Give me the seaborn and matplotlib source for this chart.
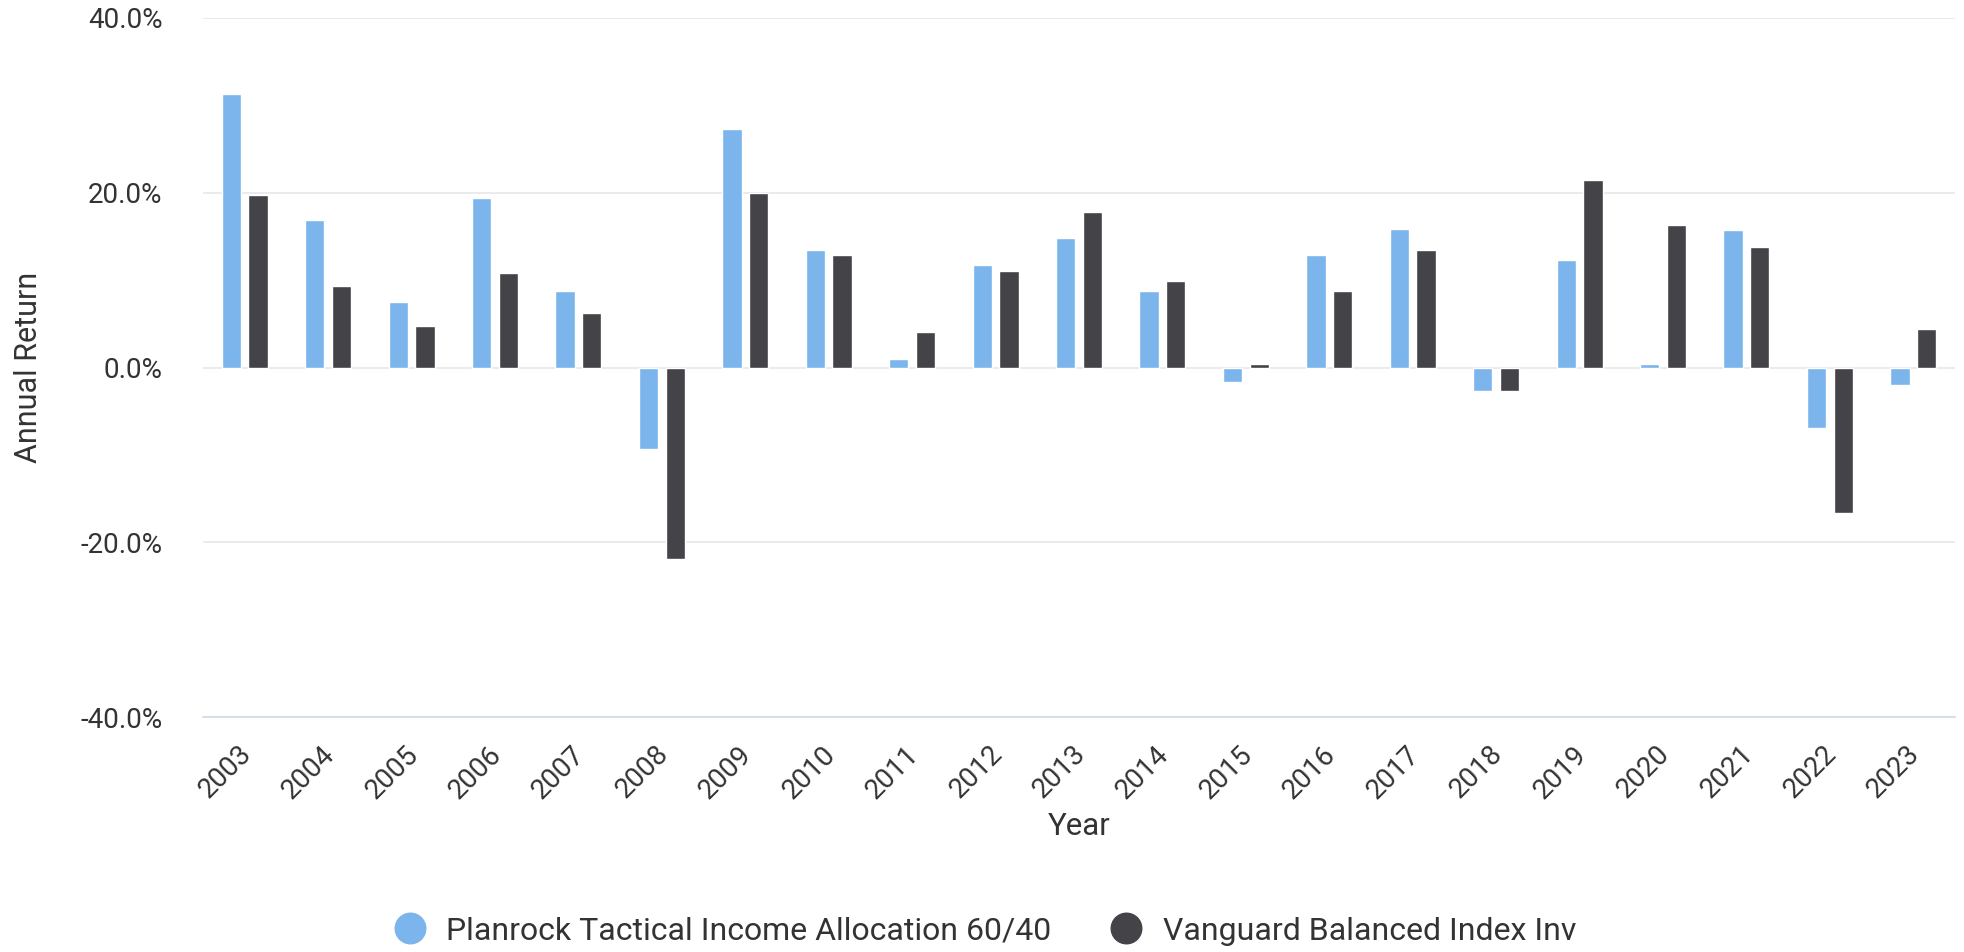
import numpy as np
import pandas as pd
import matplotlib
matplotlib.use('Agg')
import matplotlib.pyplot as plt
from matplotlib.lines import Line2D
from matplotlib.ticker import FuncFormatter
from matplotlib.transforms import ScaledTranslation
import seaborn as sns

years = [str(y) for y in range(2003, 2024)]
planrock = [31.3, 16.9, 7.5, 19.4, 8.7, -9.3, 27.3, 13.5, 1.0, 11.7, 14.8,
            8.7, -1.7, 12.9, 15.9, -2.7, 12.3, 0.4, 15.7, -6.9, -2.0]
vanguard = [19.7, 9.3, 4.7, 10.8, 6.2, -21.9, 20.0, 12.9, 4.1, 11.1, 17.8,
            9.9, 0.4, 8.7, 13.5, -2.7, 21.5, 16.3, 13.8, -16.7, 4.4]
series_names = ["Planrock Tactical Income Allocation 60/40",
                "Vanguard Balanced Index Inv"]
colors = ["#7cb5ec", "#434348"]

df = pd.DataFrame({
    "Year": years * 2,
    "Return": planrock + vanguard,
    "Series": [series_names[0]] * len(years) + [series_names[1]] * len(years),
})

sns.set_style("white")
plt.rcParams["font.family"] = ["Roboto", "DejaVu Sans"]

fig = plt.figure(figsize=(19.65, 9.52), dpi=100)
ax = fig.add_axes([203 / 1965, 1 - 717 / 952, (1955 - 203) / 1965, (717 - 18) / 952])

sns.barplot(data=df, x="Year", y="Return", hue="Series", palette=colors,
            saturation=1, width=0.64, gap=0.28, edgecolor="white", linewidth=1,
            ax=ax, legend=False, zorder=3)

ax.set_ylim(-40, 40)
ax.set_xlim(-0.5, len(years) - 0.5)
ax.set_yticks([-40, -20, 0, 20, 40])
ax.yaxis.set_major_formatter(FuncFormatter(lambda v, p: f"{v:.1f}%"))
ax.grid(axis="y", color="#e6e6e6", linewidth=1.1, zorder=0)
ax.grid(axis="x", visible=False)
for s in ["top", "right", "left"]:
    ax.spines[s].set_visible(False)
ax.spines["bottom"].set_color("#ccd6eb")
ax.spines["bottom"].set_linewidth(1.1)
ax.spines["bottom"].set_zorder(4)

ax.tick_params(axis="y", length=0, pad=29, labelsize=20, labelcolor="#333333")
ax.tick_params(axis="x", length=0, pad=17, labelsize=20, labelcolor="#333333")
shift = ScaledTranslation(-7 / 100, 0, fig.dpi_scale_trans)
for lbl in ax.get_xticklabels():
    lbl.set_rotation(45)
    lbl.set_ha("right")
    lbl.set_rotation_mode("anchor")
    lbl.set_transform(lbl.get_transform() + shift)

ax.set_ylabel("Annual Return", fontsize=22, color="#333333", labelpad=27)
ax.set_xlabel("Year", fontsize=22.5, color="#333333", labelpad=6)

handles = [Line2D([0], [0], marker="o", linestyle="none", markersize=22,
                  markerfacecolor=c, markeredgecolor=c) for c in colors]
fig.legend(handles, series_names, loc="center", bbox_to_anchor=(985 / 1965, 1 - 931 / 952),
           ncol=2, frameon=False, fontsize=23, labelcolor="#333333",
           handletextpad=0.63, columnspacing=1.85, handlelength=1.0)

fig.savefig("out.png", dpi=100)
